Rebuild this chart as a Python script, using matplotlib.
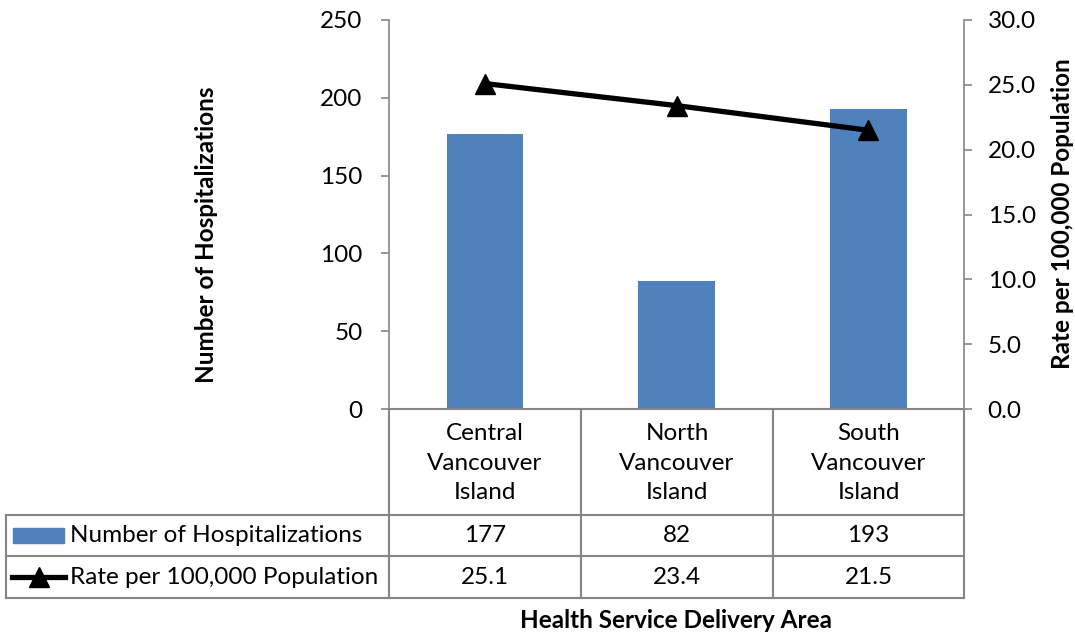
import matplotlib.pyplot as plt
from matplotlib.lines import Line2D
from matplotlib.patches import Rectangle

# data
areas = ["Central\nVancouver\nIsland", "North\nVancouver\nIsland", "South\nVancouver\nIsland"]
hospitalizations = [177, 82, 193]
rates = [25.1, 23.4, 21.5]
hosp_labels = ["177", "82", "193"]
rate_labels = ["25.1", "23.4", "21.5"]
left_ticks = [0, 50, 100, 150, 200, 250]
right_ticks = [0, 5, 10, 15, 20, 25, 30]

plt.rcParams["font.family"] = ["Lato", "DejaVu Sans"]

W, H = 1075, 635
fig = plt.figure(figsize=(W / 100, H / 100), dpi=100)

BAR = "#4F81BD"
GRID = "#868686"
FS = 17.5
TFS = 17.5


def fx(px):
    return px / W


def fy(py):
    return 1 - py / H


# plot area in pixels
x0, x1, ytop, ybot = 389, 964, 20, 409
ax = fig.add_axes([fx(x0), fy(ybot), fx(x1) - fx(x0), fy(ytop) - fy(ybot)])
ax2 = ax.twinx()

xs = range(len(areas))
ax.bar(xs, hospitalizations, width=0.4, color=BAR, zorder=2)
ax2.plot(xs, rates, color="black", lw=3.8, marker="^", ms=14, zorder=3)

ax.set_xlim(-0.5, 2.5)
ax.set_ylim(0, 250)
ax2.set_ylim(0, 30)
ax.set_yticks(left_ticks)
ax2.set_yticks(right_ticks)
ax2.set_yticklabels([f"{v:.1f}" for v in right_ticks])
ax.set_xticks([])

for a in (ax, ax2):
    for s in a.spines.values():
        s.set_visible(False)
    a.tick_params(axis="y", labelsize=FS, color=GRID, length=6, width=1.2)
ax.tick_params(axis="y", pad=13)
ax2.tick_params(axis="y", pad=11)
ax.spines["left"].set_visible(True)
ax.spines["left"].set_color(GRID)
ax.spines["left"].set_linewidth(1.2)
ax2.spines["right"].set_visible(True)
ax2.spines["right"].set_color(GRID)
ax2.spines["right"].set_linewidth(1.2)
ax.patch.set_visible(False)

fig.text(fx(207), fy(235), "Number of Hospitalizations", rotation=90, ha="center",
         va="center", fontsize=TFS, fontweight="bold")
fig.text(fx(1063), fy(214), "Rate per 100,000 Population", rotation=90, ha="center",
         va="center", fontsize=TFS, fontweight="bold")

# data table
col_edges = [6, 389, 581, 773, 964]


def hline(y, xa, xb):
    fig.add_artist(Line2D([fx(xa), fx(xb)], [fy(y), fy(y)], color=GRID, lw=1.5))


def vline(x, ya, yb):
    fig.add_artist(Line2D([fx(x), fx(x)], [fy(ya), fy(yb)], color=GRID, lw=1.5))


hline(409, 389, 964)
hline(515, 6, 964)
hline(556, 6, 964)
hline(598, 6, 964)
vline(6, 515, 598)
for x in col_edges[1:]:
    vline(x, 409, 598)

centers = [(col_edges[i + 1] + col_edges[i + 2]) / 2 for i in range(3)]
for c, name, h, r in zip(centers, areas, hosp_labels, rate_labels):
    fig.text(fx(c), fy(463), name, ha="center", va="center", fontsize=FS, linespacing=1.52)
    fig.text(fx(c), fy(535.5), h, ha="center", va="center", fontsize=FS)
    fig.text(fx(c), fy(577), r, ha="center", va="center", fontsize=FS)

# legend keys
fig.add_artist(Rectangle((fx(13), fy(543)), fx(64) - fx(13), fy(528) - fy(543), color=BAR))
fig.add_artist(Line2D([fx(12), fx(65)], [fy(577), fy(577)], color="black", lw=3.8))
fig.add_artist(Line2D([fx(38.5)], [fy(577)], color="black", marker="^", ms=14))
fig.text(fx(70), fy(535.5), "Number of Hospitalizations", ha="left", va="center", fontsize=FS)
fig.text(fx(70), fy(577), "Rate per 100,000 Population", ha="left", va="center", fontsize=FS)

fig.text(fx(676), fy(620), "Health Service Delivery Area", ha="center", va="center",
         fontsize=TFS, fontweight="bold")

fig.savefig("out.png", dpi=100)
